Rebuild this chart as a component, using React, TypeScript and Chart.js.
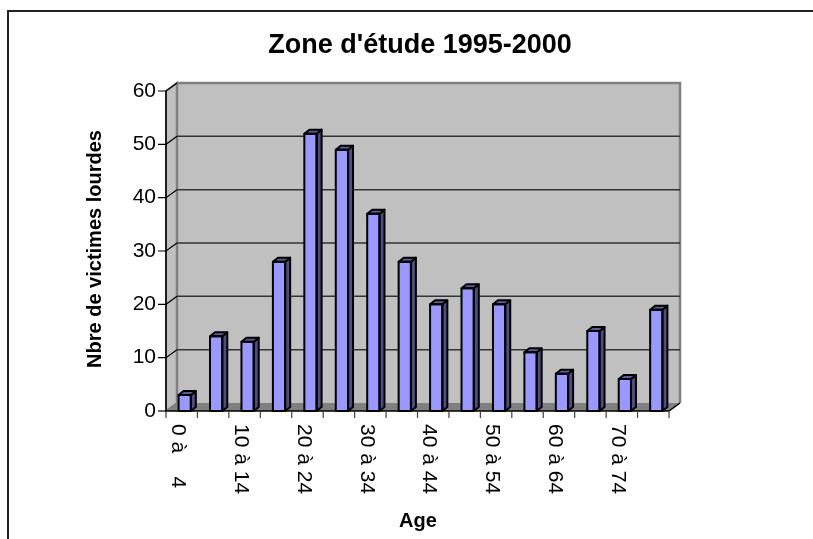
import React, { useEffect, useRef } from "react";
import { Chart, registerables } from "chart.js";

Chart.register(...registerables);

const chartTitle = "Zone d'étude 1995-2000";
const yAxisTitle = "Nbre de victimes lourdes";
const xAxisTitle = "Age";
const categories = [
  "0 à    4", "5 à 9", "10 à 14", "15 à 19", "20 à 24", "25 à 29", "30 à 34", "35 à 39",
  "40 à 44", "45 à 49", "50 à 54", "55 à 59", "60 à 64", "65 à 69", "70 à 74", "75 et +",
];
const victims = [3, 14, 13, 28, 52, 49, 37, 28, 20, 23, 20, 11, 7, 15, 6, 19];
const yMin = 0;
const yMax = 60;
const yStep = 10;

const FONT = "'Liberation Sans', Arial, sans-serif";
const DX = 11;
const DY = -8;
const SHIFT = 3;

const threeD = {
  id: "threeD",
  beforeDatasetsDraw(chart: any) {
    const { ctx, chartArea } = chart;
    const xs = chart.scales.x;
    const ys = chart.scales.y;
    const L = chartArea.left - SHIFT;
    const R = chartArea.right - SHIFT;
    const T = ys.getPixelForValue(yMax);
    const B = ys.getPixelForValue(yMin);
    ctx.save();
    // outer frame
    ctx.strokeStyle = "#222";
    ctx.lineWidth = 2;
    ctx.strokeRect(8, 11, 900, 700);

    // back wall
    ctx.fillStyle = "#c0c0c0";
    ctx.fillRect(L + DX, T + DY, R - L, B - T);
    // side wall
    ctx.beginPath();
    ctx.moveTo(L, T);
    ctx.lineTo(L + DX, T + DY);
    ctx.lineTo(L + DX, B + DY);
    ctx.lineTo(L, B);
    ctx.closePath();
    ctx.fill();
    ctx.strokeStyle = "#808080";
    ctx.lineWidth = 2;
    ctx.stroke();
    // floor
    ctx.beginPath();
    ctx.moveTo(L, B);
    ctx.lineTo(R, B);
    ctx.lineTo(R + DX, B + DY);
    ctx.lineTo(L + DX, B + DY);
    ctx.closePath();
    ctx.fillStyle = "#808080";
    ctx.fill();
    // wall edges
    ctx.strokeStyle = "#808080";
    ctx.lineWidth = 2.5;
    ctx.beginPath();
    ctx.moveTo(L + DX, B + DY);
    ctx.lineTo(L + DX, T + DY);
    ctx.lineTo(R + DX, T + DY);
    ctx.lineTo(R + DX, B + DY);
    ctx.stroke();

    // gridlines on wall + side diagonals + y ticks
    ys.ticks.forEach((t: any) => {
      const y = ys.getPixelForValue(t.value);
      if (t.value > yMin && t.value < yMax) {
        ctx.strokeStyle = "#333";
        ctx.lineWidth = 1.5;
        ctx.beginPath();
        ctx.moveTo(L + DX, y + DY);
        ctx.lineTo(R + DX, y + DY);
        ctx.stroke();
      }
      ctx.strokeStyle = "#000";
      ctx.lineWidth = 1.2;
      ctx.beginPath();
      ctx.moveTo(L - 8, y);
      ctx.lineTo(L, y);
      if (t.value > yMin) ctx.lineTo(L + DX, y + DY);
      ctx.stroke();
    });

    // front axes
    ctx.strokeStyle = "#000";
    ctx.lineWidth = 1.5;
    ctx.beginPath();
    ctx.moveTo(L, T);
    ctx.lineTo(L, B);
    ctx.lineTo(R, B);
    ctx.lineTo(R + DX, B + DY);
    ctx.stroke();

    // x tick marks at category boundaries
    const half = (xs.getPixelForValue(1) - xs.getPixelForValue(0)) / 2;
    ctx.strokeStyle = "#404040";
    ctx.lineWidth = 1.2;
    for (let i = 0; i <= categories.length; i++) {
      const x = xs.getPixelForValue(0) - half - SHIFT + i * half * 2;
      ctx.beginPath();
      ctx.moveTo(x, B);
      ctx.lineTo(x, B + 7);
      ctx.stroke();
    }

    // x labels (every other), rotated clockwise
    ctx.fillStyle = "#000";
    ctx.font = `21px ${FONT}`;
    ctx.textAlign = "left";
    ctx.textBaseline = "middle";
    categories.forEach((c, i) => {
      if (i % 2 !== 0) return;
      const x = xs.getPixelForValue(i) - 7;
      ctx.save();
      ctx.translate(x, B + 13);
      ctx.rotate(Math.PI / 2);
      ctx.fillText(c, 0, 0);
      ctx.restore();
    });

    // titles
    ctx.textAlign = "center";
    ctx.font = `bold 27px ${FONT}`;
    ctx.fillText(chartTitle, 420, 46);
    ctx.font = `bold 20px ${FONT}`;
    ctx.fillText(xAxisTitle, 418, 521);
    ctx.save();
    ctx.translate(95, 249);
    ctx.rotate(-Math.PI / 2);
    ctx.fillText(yAxisTitle, 0, 0);
    ctx.restore();
    ctx.restore();
  },
  afterDatasetsDraw(chart: any) {
    const { ctx } = chart;
    const meta = chart.getDatasetMeta(0);
    ctx.save();
    ctx.strokeStyle = "#000";
    ctx.lineWidth = 2;
    ctx.lineJoin = "round";
    meta.data.forEach((bar: any) => {
      const { x, y, width } = bar.getProps(["x", "y", "width", "base"], true);
      const base = bar.base;
      const l = x - width / 2;
      const r = x + width / 2;
      const sx = 5;
      const sy = -4;
      // side
      ctx.beginPath();
      ctx.moveTo(r, base);
      ctx.lineTo(r, y);
      ctx.lineTo(r + sx, y + sy);
      ctx.lineTo(r + sx, base + sy);
      ctx.closePath();
      ctx.fillStyle = "#4d4d80";
      ctx.fill();
      ctx.stroke();
      // top
      ctx.beginPath();
      ctx.moveTo(l, y);
      ctx.lineTo(r, y);
      ctx.lineTo(r + sx, y + sy);
      ctx.lineTo(l + sx, y + sy);
      ctx.closePath();
      ctx.fillStyle = "#5c5c99";
      ctx.fill();
      ctx.stroke();
      // front outline
      ctx.strokeRect(l, y, width, base - y);
    });
    ctx.restore();
  },
};

export default function App() {
  const ref = useRef<HTMLCanvasElement>(null);
  useEffect(() => {
    if (!ref.current) return;
    const chart = new Chart(ref.current, {
      type: "bar",
      data: {
        labels: categories,
        datasets: [
          {
            label: yAxisTitle,
            data: victims,
            backgroundColor: "#9999ff",
            borderColor: "#000",
            borderWidth: 0,
            barPercentage: 0.39,
            categoryPercentage: 1,
          },
        ],
      },
      options: {
        animation: false,
        responsive: false,
        devicePixelRatio: 1,
        layout: { padding: { left: 0, right: 141, top: 91, bottom: 0 } },
        plugins: { legend: { display: false }, tooltip: { enabled: false }, title: { display: false } },
        scales: {
          x: {
            offset: true,
            grid: { display: false, drawTicks: false },
            border: { display: false },
            ticks: { display: false },
            afterFit: (s: any) => {
              s.height = 128;
            },
          },
          y: {
            min: yMin,
            max: yMax,
            grid: { display: false, drawTicks: false },
            border: { display: false },
            ticks: {
              stepSize: yStep,
              padding: 13,
              color: "#000",
              font: { family: FONT, size: 21 },
            },
            afterFit: (s: any) => {
              s.width = 169;
            },
          },
        },
      },
      plugins: [threeD],
    });
    return () => chart.destroy();
  }, []);
  return (
    <div style={{ position: "absolute", left: 0, top: 0, width: 813, height: 539 }}>
      <canvas ref={ref} width={813} height={539} style={{ width: 813, height: 539 }} />
    </div>
  );
}
